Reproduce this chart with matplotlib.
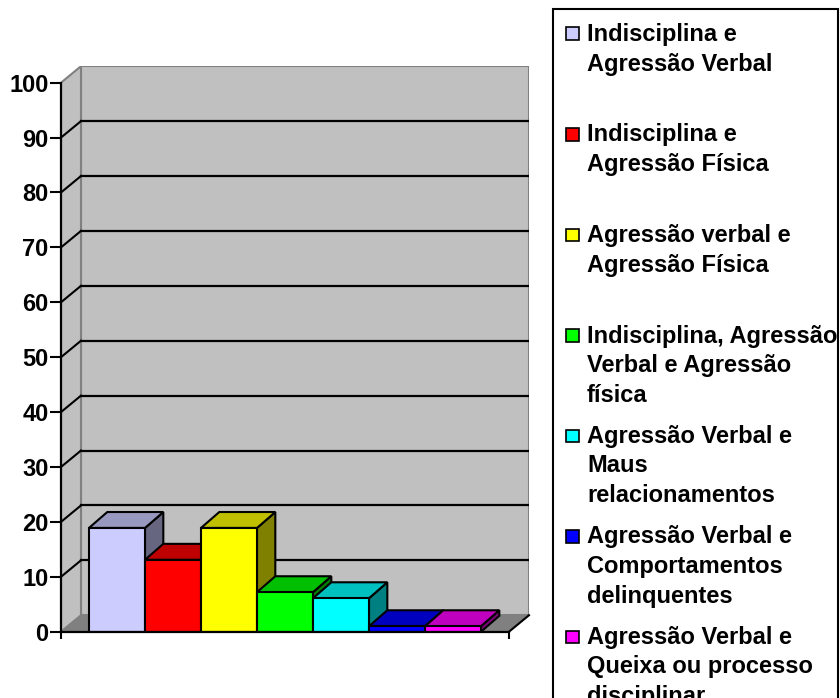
import matplotlib
matplotlib.use("Agg")
import matplotlib.pyplot as plt
from matplotlib.patches import Polygon, Rectangle
from matplotlib.colors import to_rgb

plt.rcParams['font.family'] = ['Liberation Sans', 'DejaVu Sans']
plt.rcParams['font.weight'] = 'bold'

# data
labels = [
    "Indisciplina e\nAgressão Verbal",
    "Indisciplina e\nAgressão Física",
    "Agressão verbal e\nAgressão Física",
    "Indisciplina, Agressão\nVerbal e Agressão\nfísica",
    "Agressão Verbal e\nMaus\nrelacionamentos",
    "Agressão Verbal e\nComportamentos\ndelinquentes",
    "Agressão Verbal e\nQueixa ou processo\ndisciplinar",
]
values = [18.9, 13.1, 18.9, 7.2, 6.1, 1.0, 1.0]
colors = ["#CCCCFF", "#FF0000", "#FFFF00", "#00FF00", "#00FFFF", "#0000FF", "#FF00FF"]
yticks = list(range(0, 101, 10))

W, H = 840, 698
fig = plt.figure(figsize=(8.4, 6.98), dpi=100)

# fake 3d geometry (data units)
x0, x1 = -0.5, len(values) + 0.5
dx, dy = 0.357, 3.0      # floor / wall depth
bdx, bdy = 0.327, 2.9    # bar depth

ax = fig.add_axes([61 / W, (H - 631.7) / H, (529 - 61) / W, (631.7 - 66.2) / H])
ax.set_xlim(x0, x1 + dx)
ax.set_ylim(0, 100 + dy)
ax.patch.set_visible(False)

wall = "#C0C0C0"
edge = "#808080"
# back wall
ax.add_patch(Rectangle((x0 + dx, dy), x1 - x0, 100, facecolor=wall, edgecolor=edge, lw=1.5, zorder=1))
# left wall
ax.add_patch(Polygon([(x0, 0), (x0 + dx, dy), (x0 + dx, 100 + dy), (x0, 100)],
                     closed=True, facecolor=wall, edgecolor=edge, lw=1.5, zorder=1))
# floor
ax.add_patch(Polygon([(x0, 0), (x1, 0), (x1 + dx, dy), (x0 + dx, dy)],
                     closed=True, facecolor="#808080", edgecolor="none", zorder=1.5))
ax.plot([x1, x1 + dx], [0, dy], color="black", lw=1.5, zorder=1.6, clip_on=False)

# gridlines on walls
for v in yticks[1:-1]:
    ax.plot([x0 + dx, x1 + dx], [v + dy, v + dy], color="black", lw=1.6, zorder=2)
    ax.plot([x0, x0 + dx], [v, v + dy], color="black", lw=1.5, zorder=2)

# bars
xs = list(range(len(values)))
for i, (v, c) in enumerate(zip(values, colors)):
    r, g, b = to_rgb(c)
    top = (r * 0.75, g * 0.75, b * 0.75)
    side = (r * 0.5, g * 0.5, b * 0.5)
    z = 3 + i
    ax.add_patch(Polygon([(i + 1, 0), (i + 1 + bdx, bdy), (i + 1 + bdx, v + bdy), (i + 1, v)],
                         closed=True, facecolor=side, edgecolor="black", lw=1.5, zorder=z))
    ax.add_patch(Polygon([(i, v), (i + 1, v), (i + 1 + bdx, v + bdy), (i + bdx, v + bdy)],
                         closed=True, facecolor=top, edgecolor="black", lw=1.5, zorder=z))
    ax.bar([xs[i]], [v], width=1, align="edge", color=c, edgecolor="black", lw=1.5, zorder=z + 0.5)

# axes
for s in ["top", "right"]:
    ax.spines[s].set_visible(False)
ax.spines["left"].set_bounds(0, 100)
ax.spines["bottom"].set_bounds(x0, x1)
ax.spines["left"].set_linewidth(1.6)
ax.spines["bottom"].set_linewidth(1.6)
ax.spines["left"].set_zorder(20)
ax.spines["bottom"].set_zorder(20)
ax.set_yticks(yticks)
ax.set_yticklabels([str(t) for t in yticks], fontsize=17, fontweight="bold")
ax.tick_params(axis="y", length=8, width=1.5, pad=1)
ax.set_xticks([x0, x1])
ax.set_xticklabels(["", ""])
ax.tick_params(axis="x", length=5, width=1.5)

# legend box drawn by hand (Excel style even spacing)
fig.patches.append(Rectangle((553 / W, -0.05), (838 - 553) / W, (H - 9) / H + 0.05,
                             transform=fig.transFigure, facecolor="white",
                             edgecolor="black", lw=1.5, zorder=0))
for k, (lab, c) in enumerate(zip(labels, colors)):
    base = 41 + k * 100.5
    fig.patches.append(Rectangle((566 / W, (H - base + 1) / H), 12.5 / W, 12.5 / H,
                                 transform=fig.transFigure, facecolor=c,
                                 edgecolor="black", lw=1.2, zorder=2))
    for j, line in enumerate(lab.split("\n")):
        fig.text(587 / W, (H - base - 29.5 * j) / H, line, fontsize=17,
                 fontweight="bold", va="baseline", ha="left")

fig.savefig("out.png", dpi=100)
